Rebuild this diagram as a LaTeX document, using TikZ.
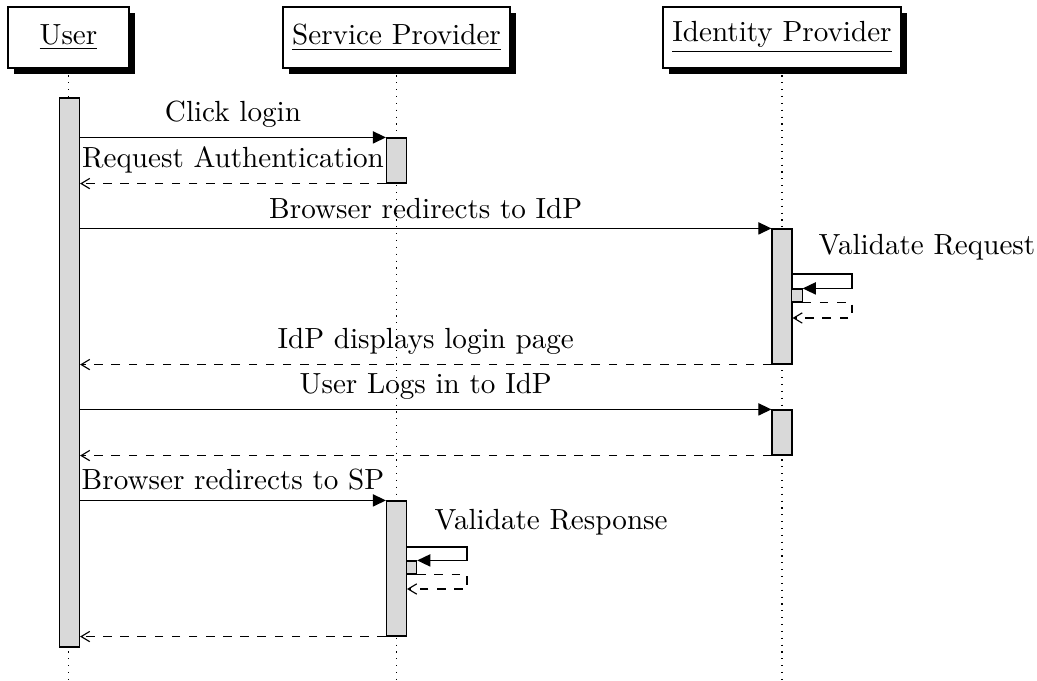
\documentclass[tikz,border=0pt]{standalone}
\usetikzlibrary{shadows,arrows.meta,backgrounds}
\begin{document}
\begin{tikzpicture}[x=0.35pt,y=-0.35pt,
  font=\fontsize{10.2pt}{12.4pt}\selectfont,
  inst/.style={draw, fill=white, inner sep=0pt, minimum height=21.35pt,
    drop shadow={opacity=1,fill=black}},
  actbar/.style={draw, fill=gray!30, inner sep=0pt, minimum width=7pt},
  selfbar/.style={draw, fill=gray!30, inner sep=0pt, minimum width=3.6pt, minimum height=4.55pt},
  lifeline/.style={dotted},
  call/.style={-{Triangle[length=4.6pt,width=4.3pt]}},
  ret/.style={dashed,-{Straight Barb[length=3pt,width=3.6pt]}},
  lbl/.style={midway, above},
  selflbl/.style={anchor=base west, inner sep=0pt}]
\useasboundingbox (0,0) rectangle (1037,681);

% instances
\node[inst, minimum width=42.35pt] (user) at (68.5,37.5) {\underline{User}};
\node[inst, minimum width=79.45pt] (sp) at (396.5,37.5) {\underline{Service Provider}};
\node[inst, minimum width=83.3pt] (idp) at (782,37.5) {\underline{Identity Provider}};

% ends of the lifelines
\coordinate (userend) at (68.5,681);
\coordinate (spend) at (396.5,681);
\coordinate (idpend) at (782,681);

\begin{scope}[on background layer]
  \draw[lifeline] (user.south) -- (userend);
  \draw[lifeline] (sp.south) -- (spend);
  \draw[lifeline] (idp.south) -- (idpend);
\end{scope}

% activation bars
\node[actbar, minimum height=192.15pt] (ub) at (69.5,372.5) {};
\node[actbar, minimum height=15.75pt] (sp1) at (396.5,160.5) {};
\node[actbar, minimum height=47.25pt] (idp1) at (782,296.5) {};
\node[selfbar] (idps) at (797,295.5) {};
\node[actbar, minimum height=15.75pt] (idp2) at (782,432.5) {};
\node[actbar, minimum height=47.25pt] (sp2) at (396.5,568.5) {};
\node[selfbar] (sps) at (411.5,567.5) {};

% messages
\draw[call] (ub.east |- sp1.north) -- (sp1.north west) node[lbl] {Click login};
\draw[ret] (sp1.south west) -- (ub.east |- sp1.south) node[lbl] {Request Authentication};
\draw[call] (ub.east |- idp1.north) -- (idp1.north west) node[lbl] {Browser redirects to IdP};

% self call at the identity provider
\coordinate (vrout) at (852,274);
\coordinate (vrret) at (852,318);
\node[selflbl] (vrlabel) at (818,255) {Validate Request};
\draw[call] (idp1.east |- vrout) -- (vrout) |- (idps.north east);
\draw[ret] (idps.south east) -- (vrout |- idps.south east) -- (vrret) -- (idp1.east |- vrret);

\draw[ret] (idp1.south west) -- (ub.east |- idp1.south) node[lbl] {IdP displays login page};
\draw[call] (ub.east |- idp2.north) -- (idp2.north west) node[lbl] {User Logs in to IdP};
\draw[ret] (idp2.south west) -- (ub.east |- idp2.south);
\draw[call] (ub.east |- sp2.north) -- (sp2.north west) node[lbl] {Browser redirects to SP};

% self call at the service provider
\coordinate (vsout) at (467,547);
\coordinate (vsret) at (467,589);
\node[selflbl] (vslabel) at (434,530) {Validate Response};
\draw[call] (sp2.east |- vsout) -- (vsout) |- (sps.north east);
\draw[ret] (sps.south east) -- (vsout |- sps.south east) -- (vsret) -- (sp2.east |- vsret);

\draw[ret] (sp2.south west) -- (ub.east |- sp2.south);
\end{tikzpicture}
\end{document}
